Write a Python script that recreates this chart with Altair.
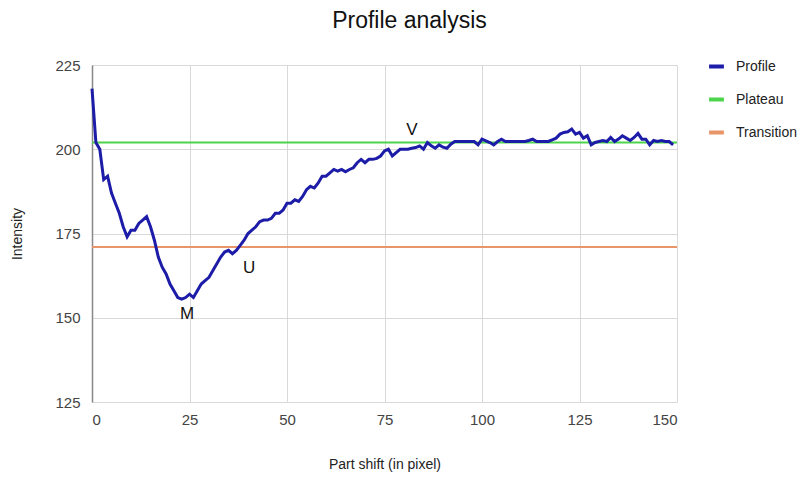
import altair as alt
import pandas as pd

# Measured intensity profile along the part (shift in pixels)
shift = list(range(0, 150))
intensity = [
    218, 202, 200, 191, 192, 187, 184, 181, 177, 174,
    176, 176, 178, 179, 180, 177, 173, 168, 165, 163,
    160, 158, 156, 155.5, 156, 157, 156, 158, 160, 161,
    162, 164, 166, 168, 169.5, 170, 169, 170, 171.5, 173,
    175, 176, 177, 178.5, 179, 179, 179.5, 181, 181, 182,
    184, 184, 185, 184.5, 186, 188, 189, 188.5, 190, 192,
    192, 193, 194, 193.5, 194, 193.3, 194, 194.5, 196, 197,
    196, 197, 197, 197.3, 198, 199.5, 200, 198, 199, 200,
    200, 200, 200.3, 200.5, 201, 200, 202, 201, 200.3, 201.3,
    200.6, 200.3, 201.5, 202.3, 202.3, 202.3, 202.3, 202.3, 202.3, 201.3,
    203, 202.5, 202, 201.3, 202.3, 203, 202.3, 202.3, 202.3, 202.3,
    202.3, 202.3, 202.6, 203, 202.3, 202.3, 202.3, 202.3, 202.8, 203.3,
    204.5, 205, 205.2, 206, 204.5, 205, 203.3, 204, 201.3, 202,
    202.3, 202.6, 202.3, 203.5, 202.3, 203, 204, 203.3, 202.6, 203.5,
    204.7, 203, 203, 201.3, 202.6, 202.3, 202.6, 202.3, 202.3, 201.3,
]

# Reference levels
plateau_level = 202
transition_level = 171
level_span = [0, 150]

# Annotated points
mark_names = ["M", "U", "V"]
mark_x = [24.4, 40.3, 82]
mark_y = [151, 164.8, 205.7]

series_names = ["Profile", "Plateau", "Transition"]
series_colors = ["#1c1ca8", "#4cd44c", "#e8956a"]

profile_df = pd.DataFrame({"shift": shift, "value": intensity, "series": "Profile"})
levels_df = pd.DataFrame({
    "shift": level_span + level_span,
    "value": [plateau_level] * 2 + [transition_level] * 2,
    "series": ["Plateau"] * 2 + ["Transition"] * 2,
})
labels_df = pd.DataFrame({"shift": mark_x, "value": mark_y, "name": mark_names})

FONT = "Liberation Sans"

color = alt.Color(
    "series:N",
    scale=alt.Scale(domain=series_names, range=series_colors),
    legend=alt.Legend(
        title=None,
        orient="none",
        legendX=615,
        legendY=-8,
        symbolType="stroke",
        symbolStrokeWidth=4,
        symbolSize=220,
        labelFontSize=14,
        labelFont=FONT,
        labelColor="#222",
        rowPadding=15,
        labelOffset=10,
    ),
)

x = alt.X(
    "shift:Q",
    title="Part shift (in pixel)",
    scale=alt.Scale(domain=[0, 150], nice=False),
    axis=alt.Axis(values=[0, 25, 50, 75, 100, 125, 150], domain=False, ticks=False,
                  labelPadding=10, titlePadding=30),
)
y = alt.Y(
    "value:Q",
    title="Intensity",
    scale=alt.Scale(domain=[125, 225], nice=False),
    axis=alt.Axis(values=[125, 150, 175, 200, 225], domain=True, domainColor="#888",
                  domainWidth=1.5, ticks=False, labelPadding=12, titlePadding=30),
)

levels = alt.Chart(levels_df).mark_line(strokeWidth=2).encode(x=x, y=y, color=color, detail="series:N")
profile = alt.Chart(profile_df).mark_line(strokeWidth=3).encode(x=x, y=y, color=color)
labels = alt.Chart(labels_df).mark_text(fontSize=17, font=FONT, color="#111").encode(
    x="shift:Q", y="value:Q", text="name:N"
)

chart = (
    alt.layer(levels, profile, labels)
    .properties(
        width=585,
        height=337,
        background="white",
        autosize=alt.AutoSizeParams(type="none"),
        padding={"left": 92, "top": 65, "right": 134, "bottom": 79},
        title=alt.TitleParams("Profile analysis", fontSize=23, font=FONT, fontWeight="normal",
                              color="#111", offset=24, dx=25),
    )
    .configure_view(stroke=None)
    .configure_axis(
        gridColor="#d9d9d9",
        labelFont=FONT,
        labelFontSize=15,
        labelColor="#444",
        titleFont=FONT,
        titleFontSize=14,
        titleFontWeight="normal",
        titleColor="#222",
    )
)

chart.save("out.html", embed_options={"renderer": "svg", "actions": False})
